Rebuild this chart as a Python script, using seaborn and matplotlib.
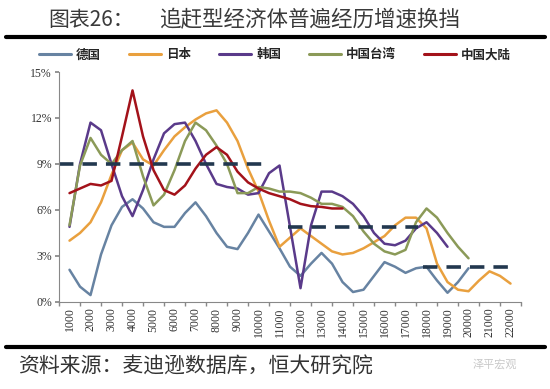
import numpy as np
import pandas as pd
import matplotlib
matplotlib.use("Agg")
import matplotlib.pyplot as plt
from matplotlib.lines import Line2D
import seaborn as sns

# ── data: values read every half category (per-capita GDP, thousands) ──
categories = [str(k * 1000) for k in range(1, 23)]

germany_x = np.arange(1, 20.01, 0.5)
germany_y = [2.1, 1.0, 0.45, 3.1, 5.0, 6.2, 6.7, 6.1, 5.2, 4.9, 4.9, 5.8, 6.5, 5.6, 4.5, 3.6,
             3.45, 4.5, 5.7, 4.6, 3.5, 2.3, 1.7, 2.5, 3.2, 2.5, 1.3, 0.65, 0.8, 1.7, 2.6, 2.3,
             1.9, 2.2, 2.3, 1.4, 0.6, 1.3, 2.2]

japan_x = np.arange(1, 22.01, 0.5)
japan_y = [4.0, 4.5, 5.2, 6.5, 8.3, 9.9, 10.4, 9.3, 8.9, 9.9, 10.8, 11.4, 11.9, 12.3, 12.5, 11.7,
           10.5, 8.7, 7.2, 5.3, 3.6, 4.2, 4.8, 4.3, 3.8, 3.3, 3.1, 3.2, 3.5, 3.9, 4.3, 5.0,
           5.5, 5.5, 4.8, 2.5, 1.3, 0.8, 0.7, 1.4, 2.0, 1.7, 1.2]

korea_x = np.arange(1, 19.01, 0.5)
korea_y = [4.9, 9.0, 11.7, 11.2, 9.0, 6.9, 5.6, 7.3, 9.3, 11.0, 11.6, 11.7, 10.5, 9.0, 7.7, 7.5,
           7.4, 7.0, 7.1, 8.4, 8.9, 4.9, 0.9, 5.0, 7.2, 7.2, 6.9, 6.4, 5.6, 4.5, 3.8, 3.7,
           4.0, 4.8, 5.2, 4.5, 3.6]

taiwan_x = np.arange(1, 20.01, 0.5)
taiwan_y = [5.0, 8.9, 10.7, 9.6, 9.0, 9.9, 10.5, 8.2, 6.3, 7.0, 8.6, 10.5, 11.7, 11.2, 10.2, 9.0,
            7.1, 7.1, 7.5, 7.4, 7.2, 7.2, 7.1, 6.8, 6.4, 6.4, 6.2, 5.6, 4.6, 3.8, 3.3, 3.1,
            3.4, 5.2, 6.1, 5.5, 4.5, 3.6, 2.85]

mainland_x = np.arange(1, 14.01, 0.5)
mainland_y = [7.1, 7.4, 7.7, 7.6, 7.9, 10.8, 13.8, 10.8, 8.6, 7.3, 7.0, 7.6, 8.7, 9.6, 10.1, 9.6,
              8.5, 7.8, 7.4, 7.1, 6.9, 6.7, 6.4, 6.25, 6.2, 6.1, 6.1]

# average growth per stage (dashed)
stage_x = [[0.5, 10.5], [11.4, 17.6], [17.85, 22.0]]
stage_y = [9.0, 4.9, 2.25]

series_names = ["德国", "日本", "韩国", "中国台湾", "中国大陆"]
colors = ["#6783a2", "#e9a03e", "#5a3a8a", "#8b9a58", "#a3121a"]

frames = []
for name, xs, ys in zip(series_names,
                        [germany_x, japan_x, korea_x, taiwan_x, mainland_x],
                        [germany_y, japan_y, korea_y, taiwan_y, mainland_y]):
    frames.append(pd.DataFrame({"k": xs, "v": ys, "series": name}))
df = pd.concat(frames, ignore_index=True)

# ── figure ──
sns.set_theme(style="white")
plt.rcParams["font.family"] = ["Noto Sans CJK SC", "DejaVu Sans"]

fig = plt.figure(figsize=(5.5, 3.89), dpi=100)
ax = fig.add_axes([0.1073, 0.2237, 0.8400, 0.5912])

sns.lineplot(data=df, x="k", y="v", hue="series", palette=dict(zip(series_names, colors)),
             hue_order=series_names, estimator=None, sort=False, linewidth=1.8,
             legend=False, ax=ax)

for xs, yv in zip(stage_x, stage_y):
    ax.plot(xs, [yv, yv], color="#22384f", linewidth=2.6, dashes=(4, 2.5), solid_capstyle="butt")

ax.set_xlim(0.5, 22.5)
ax.set_ylim(0, 15)
ax.set_xlabel("")
ax.set_ylabel("")

ax.set_yticks([0, 3, 6, 9, 12, 15])
ax.set_yticklabels([f"{v}%" for v in [0, 3, 6, 9, 12, 15]], family="Liberation Serif",
                   fontsize=8.5, color="#333333")
ax.set_xticks(range(1, 23))
ax.set_xticklabels(categories, rotation=90, family="Liberation Serif", fontsize=8.5,
                   color="#333333")
ax.set_xticks(np.arange(0.5, 23, 1), minor=True)
ax.tick_params(axis="x", which="major", length=0, pad=4)
ax.tick_params(axis="x", which="minor", length=3, color="#888888", direction="out", bottom=True)
ax.tick_params(axis="y", length=3, color="#888888", direction="out", left=True, pad=2)

for side in ["top", "right"]:
    ax.spines[side].set_visible(False)
for side in ["left", "bottom"]:
    ax.spines[side].set_color("#888888")
    ax.spines[side].set_linewidth(0.8)

handles = [Line2D([0], [0], color=c, linewidth=2.2) for c in colors]
fig.legend(handles, series_names, loc="center", bbox_to_anchor=(0.5, 0.859), ncol=5,
           frameon=False, handlelength=2.6, handletextpad=0.4, columnspacing=2.2,
           prop={"size": 9, "weight": "bold"})

# title, rules and source
fig.text(0.087, 0.949, "图表26：", fontsize=15, color="#3a3a3a", va="center")
fig.text(0.29, 0.949, "追赶型经济体普遍经历增速换挡", fontsize=15.5, color="#3a3a3a", va="center")
fig.add_artist(Line2D([0.01, 0.99], [0.905, 0.905], color="black", linewidth=3))
fig.add_artist(Line2D([0.01, 0.99], [0.108, 0.108], color="black", linewidth=3))
fig.text(0.033, 0.057, "资料来源：麦迪逊数据库，恒大研究院", fontsize=15, color="#333333",
         va="center", style="italic")
fig.text(0.86, 0.062, "泽平宏观", fontsize=8, color="#c8c8c8", va="center")

plt.savefig("out.png", dpi=100)
